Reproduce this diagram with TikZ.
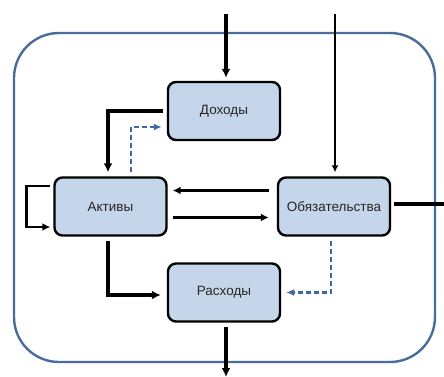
\documentclass[tikz,border=0pt]{standalone}
\usepackage{fontspec}
\setmainfont{Liberation Sans}
\usetikzlibrary{arrows.meta,calc}
\definecolor{boxfill}{HTML}{C5D5EA}
\definecolor{frameblue}{HTML}{4A6C9B}
\definecolor{dashblue}{HTML}{41699F}
\tikzset{
  acc/.style={draw=black, line width=2.4pt, fill=boxfill, rounded corners=8pt,
    minimum width=112pt, minimum height=58pt, inner sep=0pt,
    font=\fontsize{13.5}{15}\selectfont, text=black!85},
  bigarrow/.style={line width=3.6pt, -{Latex[length=9pt,width=9pt]}},
  midarrow/.style={line width=2.6pt, -{Latex[length=8pt,width=8pt]}},
  thinarrow/.style={line width=2pt, -{Latex[length=7pt,width=7pt]}},
  dasharrow/.style={line width=2.4pt, dashblue, dash pattern=on 5pt off 3pt, -{Latex[length=8pt,width=7pt]}},
}
\begin{document}
\begin{tikzpicture}[x=1pt,y=-1pt]
\useasboundingbox (0,0) rectangle (444,377);
\draw[frameblue, line width=2.4pt, rounded corners=45pt] (14,33) rectangle (435,362);

\node[acc] (dox) at (224,111) {Доходы};
\node[acc] (akt) at (110.5,206.5) {Активы};
\node[acc] (obl) at (334,206.5) {Обязательства};
\node[acc] (ras) at (224,292.5) {Расходы};

\coordinate (in1) at (226,14);
\coordinate (in2) at (335,14);
\coordinate (out1) at (226,377);
\coordinate (out2) at (444,204);

\draw[bigarrow] (in1) -- ($(dox.north)+(2,-3)$);
\draw[thinarrow] (in2) -- ($(obl.north)+(1,-4)$);
\draw[bigarrow] ($(dox.west)+(-4,0)$) -| ($(akt.north)+(-2.5,-4)$);
\draw[dasharrow] ($(akt.north)+(20.5,-4)$) |- ($(dox.west)+(-5,16)$);
\draw[midarrow] ($(obl.west)+(-8,-16)$) -- ($(akt.east)+(5,-16)$);
\draw[midarrow] ($(akt.east)+(5,11)$) -- ($(obl.west)+(-8,11)$);
\draw[midarrow] ($(akt.west)+(-3,-20.5)$) -- ++(-24,0) |- ($(akt.west)+(-3,20.5)$);
\draw[bigarrow] ($(akt.south)+(-2.5,4)$) |- ($(ras.west)+(-6,2.5)$);
\draw[dasharrow] ($(obl.south)+(-3,4)$) |- ($(ras.east)+(5,0)$);
\draw[bigarrow] ($(ras.south)+(2,4)$) -- (out1);
\draw[line width=3.4pt] ($(obl.east)+(3,-2.5)$) -- (out2);
\end{tikzpicture}
\end{document}
